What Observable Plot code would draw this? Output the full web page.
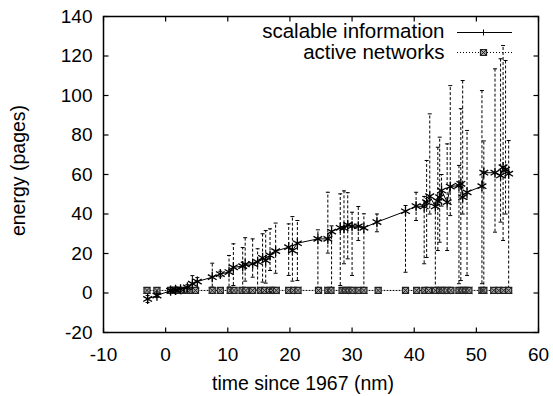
<!DOCTYPE html>
<html>
<head>
<meta charset="utf-8">
<script src="https://cdn.jsdelivr.net/npm/d3@7"></script>
<script src="https://cdn.jsdelivr.net/npm/@observablehq/plot@0.6"></script>
<style>
  html, body { margin: 0; padding: 0; background: #fff; }
  #chart { width: 553px; height: 396px; }
</style>
</head>
<body>
<div id="chart"></div>
<script>
// ---- data ----
const siX  = [-2.9,-1.4,0.8,1.6,2.4,3.5,4.3,5.1,7.5,8.8,10.2,10.9,12.4,12.8,14.0,14.8,15.6,16.1,16.8,17.7,19.8,20.4,21.2,24.5,26.1,26.7,28.1,28.7,29.3,30.0,31.0,31.9,34.0,38.6,40.3,41.6,42.0,42.5,43.4,43.8,44.1,44.4,45.3,45.8,47.2,47.5,47.8,48.5,50.9,51.2,53.0,53.9,54.3,54.7,55.2];
const siY  = [-3.0,-1.3,1.2,1.6,1.9,2.9,4.7,5.8,8.0,9.6,10.6,13.0,13.6,14.5,14.8,15.7,17.8,16.5,19.0,21.2,23.2,21.5,25.2,27.4,27.4,31.1,33.0,32.8,34.5,33.8,33.8,33.0,35.9,41.4,44.0,43.8,46.0,49.0,43.8,46.5,48.5,51.9,46.0,53.9,54.4,55.3,48.5,51.0,54.1,60.9,60.9,59.5,63.7,62.5,60.4];
const siLo = [-4.8,-2.2,0.6,1.0,1.3,1.6,1.8,2.5,3.0,8.2,3.0,3.8,1.5,6.0,8.0,1.5,5.5,5.0,11.4,10.0,8.9,6.0,6.3,1.6,20.2,1.6,3.8,14.8,17.3,8.9,26.6,1.6,31.0,10.5,36.7,14.8,18.0,40.0,1.5,21.5,25.7,44.0,21.5,39.2,4.7,6.3,40.0,8.9,4.7,1.5,30.8,35.9,26.6,40.0,2.0];
const siHi = [-1.3,-0.4,1.8,2.2,2.5,4.2,8.8,7.8,15.1,11.0,19.0,24.9,23.0,28.0,27.4,22.4,30.0,31.6,32.5,35.4,35.0,38.7,36.7,32.0,51.0,34.0,50.2,51.7,50.8,40.9,43.8,40.1,40.0,44.3,51.0,48.9,67.1,90.7,44.5,73.8,78.9,60.0,75.5,105.0,64.6,93.3,107.6,82.3,102.5,77.0,113.5,118.6,125.3,117.7,77.2];

const anX = [-3.0,-1.4,0.8,1.2,1.6,2.0,2.4,3.5,3.9,4.8,7.5,8.8,10.4,11.0,12.3,12.9,14.0,15.3,15.9,16.7,17.2,17.8,19.8,20.6,21.3,24.6,26.1,26.6,28.4,28.9,29.5,30.0,31.1,31.9,34.2,38.6,40.4,41.7,42.3,43.4,44.1,44.5,45.3,45.9,47.2,47.7,48.3,48.8,50.9,51.2,52.8,53.6,54.4,55.2];
const anY = [1.3,1.3,1.3,1.3,1.3,1.3,1.3,1.3,1.3,1.3,1.3,1.3,1.3,1.3,1.3,1.3,1.3,1.3,1.3,1.3,1.3,1.3,1.3,1.3,1.3,1.3,1.3,1.3,1.3,1.3,1.3,1.3,1.3,1.3,1.3,1.3,1.3,1.3,1.3,1.3,1.3,1.3,1.3,1.3,1.3,1.3,1.3,1.3,1.3,1.3,1.3,1.3,1.3,1.3];

const xTicks = [-10,0,10,20,30,40,50,60];
const yTicks = [-20,0,20,40,60,80,100,120,140];
const seriesNames = ["scalable information", "active networks"];
const xTitle = "time since 1967 (nm)";
const yTitle = "energy (pages)";

// ---- tables built from arrays ----
const si = siX.map((x, i) => ({x, y: siY[i], lo: siLo[i], hi: siHi[i]}));
const an = anX.map((x, i) => ({x, y: anY[i]}));

// ---- custom symbols ----
const TL = 5;
const tickUp    = {draw(c){ c.moveTo(0,0); c.lineTo(0,-TL); }};
const tickDown  = {draw(c){ c.moveTo(0,0); c.lineTo(0, TL); }};
const tickRight = {draw(c){ c.moveTo(0,0); c.lineTo(TL,0); }};
const tickLeft  = {draw(c){ c.moveTo(0,0); c.lineTo(-TL,0); }};
const cap       = {draw(c){ c.moveTo(-2,0); c.lineTo(2,0); }};
const legLine   = {draw(c){ c.moveTo(-27.5,0); c.lineTo(27.5,0); }};
const plus      = {draw(c){ c.moveTo(-3,0); c.lineTo(3,0); c.moveTo(0,-3); c.lineTo(0,3); }};

const font = "'Liberation Sans', Arial, Helvetica, sans-serif";
const fmt = d => String(d);

const chart = Plot.plot({
  width: 553,
  height: 396,
  marginLeft: 103,
  marginRight: 15,
  marginTop: 16,
  marginBottom: 64,
  style: {fontFamily: font, fontSize: "19px", background: "#fff", color: "#000"},
  x: {domain: [-10, 60], ticks: xTicks, tickFormat: fmt, tickSize: 0, tickPadding: 15, label: null},
  y: {domain: [-20, 140], ticks: yTicks, tickFormat: fmt, tickSize: 0, tickPadding: 11, label: null},
  marks: [
    // error bars
    Plot.ruleX(si, {x: "x", y1: "lo", y2: "hi", stroke: "#000", strokeWidth: 1, strokeDasharray: "3,2"}),
    Plot.dot(si, {x: "x", y: "hi", symbol: cap, stroke: "#000", fill: "none", strokeWidth: 1}),
    Plot.dot(si, {x: "x", y: "lo", symbol: cap, stroke: "#000", fill: "none", strokeWidth: 1}),
    // active networks
    Plot.line(an, {x: "x", y: "y", stroke: "#000", strokeWidth: 1, strokeDasharray: "1,2"}),
    Plot.dot(an, {x: "x", y: "y", symbol: "square", r: 3.4, stroke: "#222", fill: "#aaa", strokeWidth: 1.2}),
    Plot.dot(an, {x: "x", y: "y", symbol: "times", r: 3.2, stroke: "#222", fill: "none", strokeWidth: 1}),
    // scalable information
    Plot.line(si, {x: "x", y: "y", stroke: "#000", strokeWidth: 1}),
    Plot.dot(si, {x: "x", y: "y", symbol: "asterisk", r: 4.8, stroke: "#000", fill: "none", strokeWidth: 1.3}),
    // frame & inward ticks
    Plot.frame({stroke: "#000", strokeWidth: 1.5}),
    Plot.dot(xTicks, {x: d => d, frameAnchor: "bottom", symbol: tickUp, stroke: "#000", fill: "none", strokeWidth: 1.2}),
    Plot.dot(xTicks, {x: d => d, frameAnchor: "top", symbol: tickDown, stroke: "#000", fill: "none", strokeWidth: 1.2}),
    Plot.dot(yTicks, {y: d => d, frameAnchor: "left", symbol: tickRight, stroke: "#000", fill: "none", strokeWidth: 1.2}),
    Plot.dot(yTicks, {y: d => d, frameAnchor: "right", symbol: tickLeft, stroke: "#000", fill: "none", strokeWidth: 1.2}),
    // axis titles
    Plot.text([xTitle], {text: d => d, frameAnchor: "bottom", dx: -18, dy: 51, textAnchor: "middle", lineAnchor: "middle", fontSize: 19.5, fill: "#000"}),
    Plot.text([yTitle], {text: d => d, frameAnchor: "left", dx: -85, dy: -4, rotate: -90, textAnchor: "middle", lineAnchor: "middle", fontSize: 19.5, fill: "#000"}),
    // legend
    Plot.text([seriesNames[0]], {text: d => d, frameAnchor: "top-right", dx: -94, dy: 15, textAnchor: "end", lineAnchor: "middle", fontSize: 20.5, fill: "#000"}),
    Plot.text([seriesNames[1]], {text: d => d, frameAnchor: "top-right", dx: -94, dy: 36, textAnchor: "end", lineAnchor: "middle", fontSize: 20.5, fill: "#000"}),
    Plot.dot([seriesNames[0]], {frameAnchor: "top-right", dx: -54, dy: 16, symbol: legLine, stroke: "#000", fill: "none", strokeWidth: 1}),
    Plot.dot([seriesNames[0]], {frameAnchor: "top-right", dx: -55, dy: 16, symbol: plus, stroke: "#000", fill: "none", strokeWidth: 1}),
    Plot.dot([seriesNames[1]], {frameAnchor: "top-right", dx: -54, dy: 36, symbol: legLine, stroke: "#000", fill: "none", strokeWidth: 1, strokeDasharray: "1,2"}),
    Plot.dot([seriesNames[1]], {frameAnchor: "top-right", dx: -55, dy: 36, symbol: "square", r: 3.4, stroke: "#222", fill: "#aaa", strokeWidth: 1.2}),
    Plot.dot([seriesNames[1]], {frameAnchor: "top-right", dx: -55, dy: 36, symbol: "times", r: 3.2, stroke: "#222", fill: "none", strokeWidth: 1})
  ]
});
document.getElementById("chart").appendChild(chart);
</script>
</body>
</html>
